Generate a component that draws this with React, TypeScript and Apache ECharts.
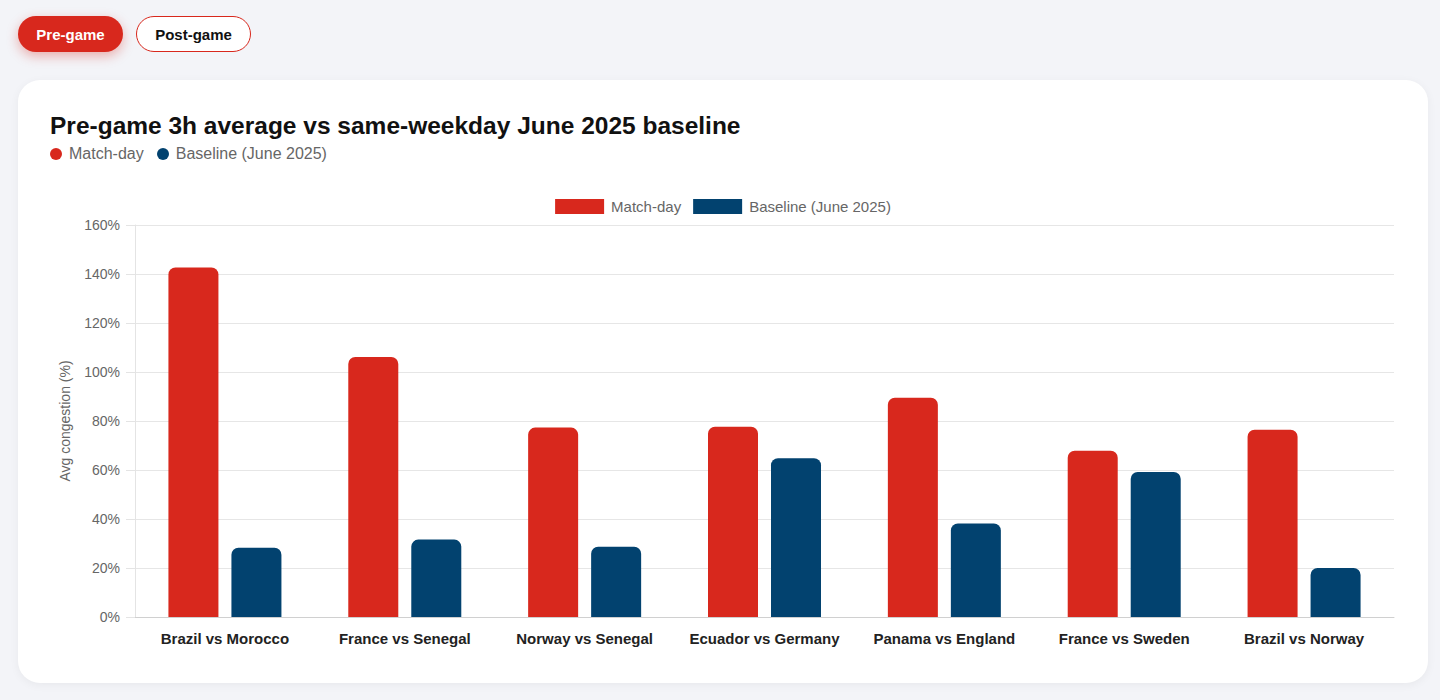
import React, { useEffect, useRef } from "react";
import * as echarts from "echarts";

const categories = [
  "Brazil vs Morocco",
  "France vs Senegal",
  "Norway vs Senegal",
  "Ecuador vs Germany",
  "Panama vs England",
  "France vs Sweden",
  "Brazil vs Norway",
];
const matchDay = [142.7, 106.1, 77.3, 77.7, 89.5, 67.9, 76.4];
const baseline = [28.3, 31.6, 28.7, 64.8, 38.2, 59.2, 20.0];
const seriesNames = ["Match-day", "Baseline (June 2025)"];
const yTicks = { min: 0, max: 160, interval: 20 };

const RED = "#d8281d";
const BLUE = "#02426f";
const FONT = "'Liberation Sans', Arial, Helvetica, sans-serif";

export default function App() {
  const ref = useRef<HTMLDivElement>(null);

  useEffect(() => {
    if (!ref.current) return;
    const chart = echarts.init(ref.current, undefined, { renderer: "svg" });
    chart.setOption({
      animation: false,
      textStyle: { fontFamily: FONT },
      legend: {
        top: 4,
        left: "center",
        itemWidth: 49,
        itemHeight: 15,
        itemGap: 12,
        icon: "rect",
        textStyle: { fontSize: 15, color: "#666", fontFamily: FONT, padding: [0, 0, 0, 2] },
        data: seriesNames,
      },
      grid: { left: 82, right: 2, top: 35, height: 392 },
      xAxis: {
        type: "category",
        data: categories,
        axisLine: { show: true, lineStyle: { color: "#d0d0d0", width: 1 } },
        axisTick: { show: false },
        axisLabel: {
          interval: 0,
          margin: 14,
          fontSize: 15,
          fontWeight: "bold",
          color: "#222",
          fontFamily: FONT,
        },
        splitLine: { show: false },
      },
      yAxis: {
        type: "value",
        min: yTicks.min,
        max: yTicks.max,
        interval: yTicks.interval,
        name: "Avg congestion (%)",
        nameLocation: "middle",
        nameGap: 63,
        nameRotate: 90,
        nameTextStyle: { fontSize: 14, color: "#666", fontFamily: FONT },
        axisLine: { show: true, lineStyle: { color: "#e4e4e4" } },
        axisTick: { show: true, length: 9, lineStyle: { color: "#e4e4e4" } },
        axisLabel: {
          margin: 15,
          fontSize: 14,
          color: "#666",
          fontFamily: FONT,
          formatter: (v: number) => `${v}%`,
        },
        splitLine: { show: true, lineStyle: { color: "#e6e6e6" } },
      },
      series: [
        {
          name: seriesNames[0],
          type: "bar",
          data: matchDay,
          barWidth: 50,
          barGap: "26%",
          itemStyle: { color: RED, borderRadius: [7, 7, 0, 0] },
        },
        {
          name: seriesNames[1],
          type: "bar",
          data: baseline,
          barWidth: 50,
          itemStyle: { color: BLUE, borderRadius: [7, 7, 0, 0] },
        },
      ],
    });
    return () => chart.dispose();
  }, []);

  const btnBase: React.CSSProperties = {
    position: "absolute",
    top: 16,
    height: 36,
    borderRadius: 18,
    boxSizing: "border-box",
    fontFamily: FONT,
    fontWeight: "bold",
    fontSize: 15,
    display: "flex",
    alignItems: "center",
    justifyContent: "center",
  };

  const dot = (color: string): React.CSSProperties => ({
    display: "inline-block",
    width: 12,
    height: 12,
    borderRadius: 6,
    background: color,
    marginRight: 7,
  });

  return (
    <div
      style={{
        position: "fixed",
        inset: 0,
        background: "#f3f4f8",
        fontFamily: FONT,
      }}
    >
      <div
        style={{
          ...btnBase,
          left: 18,
          width: 105,
          background: RED,
          color: "#fff",
          boxShadow: "0 4px 12px rgba(216,40,29,0.35)",
        }}
      >
        Pre-game
      </div>
      <div
        style={{
          ...btnBase,
          left: 136,
          width: 115,
          background: "#fff",
          color: "#111",
          border: `1.5px solid ${RED}`,
        }}
      >
        Post-game
      </div>
      <div
        style={{
          position: "absolute",
          left: 18,
          top: 80,
          width: 1410,
          height: 603,
          background: "#fff",
          borderRadius: 22,
          boxShadow: "0 2px 10px rgba(0,0,0,0.05)",
        }}
      >
        <div
          style={{
            position: "absolute",
            left: 32,
            top: 31,
            fontSize: 24.5,
            fontWeight: "bold",
            color: "#111",
            lineHeight: "30px",
            whiteSpace: "nowrap",
          }}
        >
          Pre-game 3h average vs same-weekday June 2025 baseline
        </div>
        <div
          style={{
            position: "absolute",
            left: 32,
            top: 64,
            fontSize: 16,
            color: "#666",
            lineHeight: "20px",
            display: "flex",
            alignItems: "center",
            whiteSpace: "nowrap",
          }}
        >
          <span style={dot(RED)} />
          <span style={{ marginRight: 13 }}>Match-day</span>
          <span style={dot(BLUE)} />
          <span>Baseline (June 2025)</span>
        </div>
        <div
          ref={ref}
          style={{
            position: "absolute",
            left: 32,
            top: 110,
            width: 1346,
            height: 470,
          }}
        />
      </div>
    </div>
  );
}
